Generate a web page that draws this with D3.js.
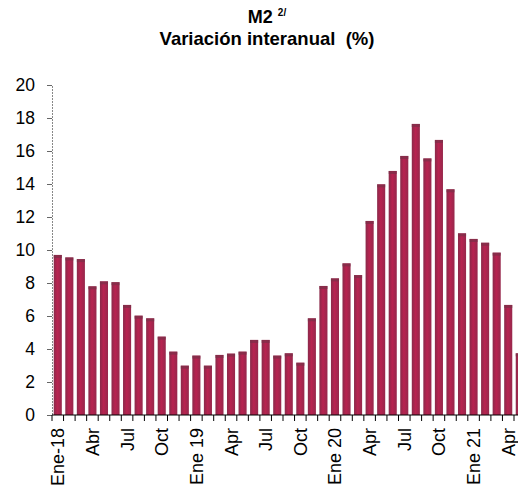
<!DOCTYPE html>
<html lang="es">
<head>
    <meta charset="UTF-8">
    <title>M2 variación interanual</title>
    <script src="https://d3js.org/d3.v7.min.js"></script>
    <style>
        body { margin: 0; background: #fff; }
        text { font-family: Arial, "Liberation Sans", sans-serif; fill: #000; }
    </style>
</head>
<body>
    <svg></svg>
    <script>
        const w = 518;
        const h = 495;

        // one label per month, Jan 2018 .. May 2021
        const months = [
            'Ene-18', 'Feb-18', 'Mar-18', 'Abr', 'May-18', 'Jun-18', 'Jul', 'Ago-18', 'Sep-18', 'Oct', 'Nov-18', 'Dic-18',
            'Ene 19', 'Feb-19', 'Mar-19', 'Apr', 'May-19', 'Jun-19', 'Jul ', 'Ago-19', 'Sep-19', 'Oct ', 'Nov-19', 'Dic-19',
            'Ene 20', 'Feb-20', 'Mar-20', 'Apr ', 'May-20', 'Jun-20', 'Jul  ', 'Ago-20', 'Sep-20', 'Oct  ', 'Nov-20', 'Dic-20',
            'Ene 21', 'Feb-21', 'Mar-21', 'Apr  ', 'May-21'
        ];
        const values = [
            9.7, 9.55, 9.45, 7.8, 8.1, 8.05, 6.67, 6.02, 5.86, 4.75, 3.84, 2.99,
            3.6, 2.99, 3.64, 3.72, 3.84, 4.55, 4.55, 3.6, 3.74, 3.17, 5.86, 7.82,
            8.28, 9.19, 8.48, 11.76, 13.98, 14.79, 15.7, 17.64, 15.55, 16.67, 13.68, 11.01,
            10.67, 10.44, 9.84, 6.67, 3.74
        ];
        const tickLabels = ['Ene-18', 'Abr', 'Jul', 'Oct', 'Ene 19', 'Apr', 'Jul ', 'Oct ',
            'Ene 20', 'Apr ', 'Jul  ', 'Oct  ', 'Ene 21', 'Apr  '];
        const yTicks = [0, 2, 4, 6, 8, 10, 12, 14, 16, 18, 20];

        const data = months.map((m, i) => ({ month: m, value: values[i] }));

        const svg = d3.select('svg')
            .attr('width', w)
            .attr('height', h);

        const defs = svg.append('defs');
        const grad = defs.append('linearGradient')
            .attr('id', 'barGrad')
            .attr('x1', '0%').attr('x2', '100%')
            .attr('y1', '0%').attr('y2', '0%');
        grad.append('stop').attr('offset', '0%').attr('stop-color', '#8a2a4a');
        grad.append('stop').attr('offset', '45%').attr('stop-color', '#b82350');
        grad.append('stop').attr('offset', '100%').attr('stop-color', '#96284c');

        const x = d3.scaleBand()
            .domain(months)
            .range([52, 52 + months.length * 11.55])
            .paddingInner(0.3)
            .paddingOuter(0.15);

        const y = d3.scaleLinear()
            .domain([0, 20])
            .range([415, 85]);

        // title
        const title = svg.append('text')
            .attr('x', 267)
            .attr('y', 23)
            .attr('text-anchor', 'middle')
            .attr('font-weight', 'bold')
            .attr('font-size', 18);
        title.append('tspan').text('M2\u00a0');
        title.append('tspan')
            .attr('font-size', 10)
            .attr('dy', -7)
            .text('2/');
        svg.append('text')
            .attr('x', 267)
            .attr('y', 45)
            .attr('text-anchor', 'middle')
            .attr('font-weight', 'bold')
            .attr('font-size', 18.5)
            .text('Variación interanual\u00a0 (%)');

        // bars
        svg.selectAll('rect.bar')
            .data(data)
            .enter()
            .append('rect')
            .attr('class', 'bar')
            .attr('x', d => x(d.month))
            .attr('y', d => y(d.value))
            .attr('width', x.bandwidth())
            .attr('height', d => y(0) - y(d.value))
            .attr('fill', 'url(#barGrad)');

        // darker cap on top of every bar
        svg.selectAll('rect.cap')
            .data(data)
            .enter()
            .append('rect')
            .attr('class', 'cap')
            .attr('x', d => x(d.month))
            .attr('y', d => y(d.value))
            .attr('width', x.bandwidth())
            .attr('height', 3)
            .attr('fill', '#7a3048')
            .attr('opacity', 0.7);

        // y axis
        const yAxis = svg.append('g')
            .attr('transform', 'translate(52, 0)')
            .call(d3.axisLeft(y).tickValues(yTicks).tickSize(5).tickPadding(12));
        yAxis.select('.domain')
            .attr('stroke', '#888')
            .attr('stroke-dasharray', '2,1');
        yAxis.selectAll('.tick line').attr('stroke', '#666');
        yAxis.selectAll('text')
            .attr('font-size', 17.5)
            .attr('font-family', 'Arial, "Liberation Sans", sans-serif');

        // x axis: ticks on band edges, labels on quarters
        const step = x.step();
        const edges = months.map(m => x(m) - x.paddingInner() * step / 2);
        const xAxis = svg.append('g');
        xAxis.append('line')
            .attr('x1', 52).attr('x2', w)
            .attr('y1', y(0)).attr('y2', y(0))
            .attr('stroke', '#000');
        xAxis.selectAll('line.tk')
            .data(edges)
            .enter()
            .append('line')
            .attr('class', 'tk')
            .attr('x1', d => d).attr('x2', d => d)
            .attr('y1', y(0)).attr('y2', y(0) + 6)
            .attr('stroke', '#000');
        xAxis.selectAll('text')
            .data(tickLabels)
            .enter()
            .append('text')
            .attr('transform', d => `translate(${x(d) + x.bandwidth() / 2 + 6.5}, ${y(0) + 13}) rotate(-90)`)
            .attr('text-anchor', 'end')
            .attr('font-size', 18)
            .text(d => d.trim());
    </script>
</body>
</html>
